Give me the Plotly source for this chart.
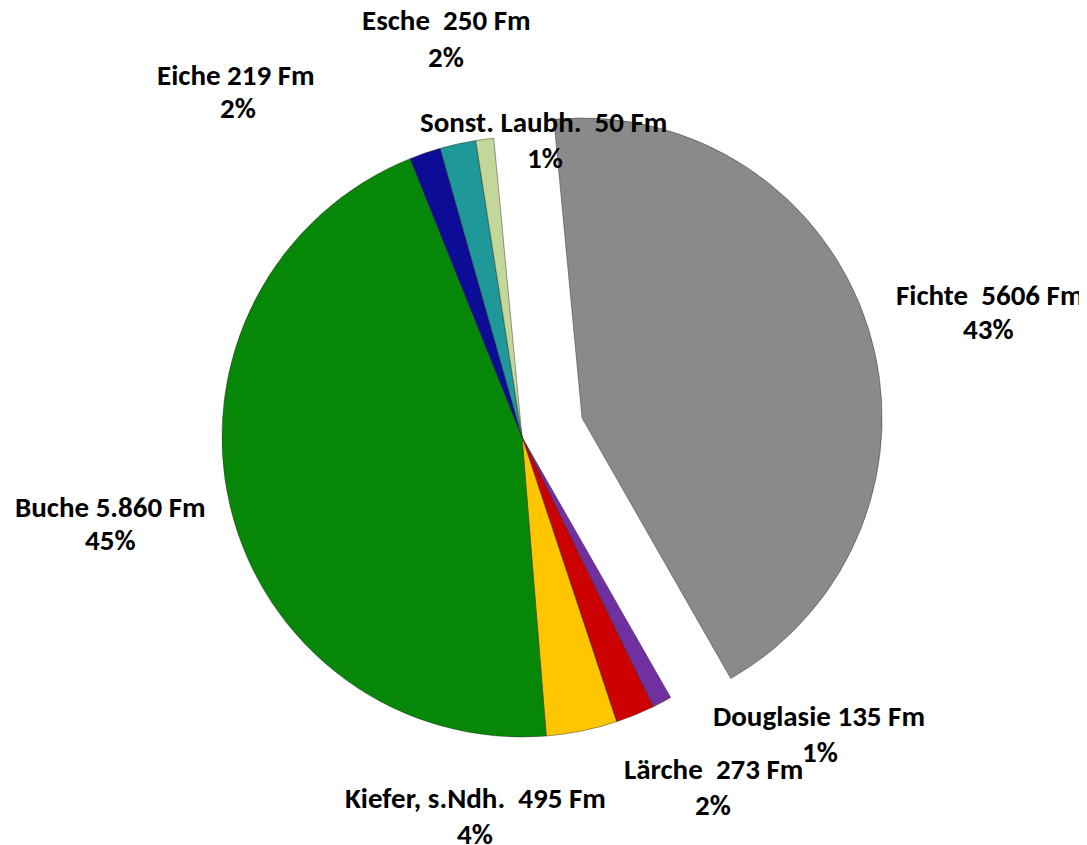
import plotly.graph_objects as go

# Data
species = ["Fichte", "Douglasie", "Lärche", "Kiefer, s.Ndh.", "Buche", "Eiche", "Esche", "Sonst. Laubh."]
volumes = [5606, 135, 273, 495, 5860, 219, 250, 125]
label_texts = ["Fichte  5606 Fm", "Douglasie 135 Fm", "Lärche  273 Fm", "Kiefer, s.Ndh.  495 Fm",
               "Buche 5.860 Fm", "Eiche 219 Fm", "Esche  250 Fm", "Sonst. Laubh.  50 Fm"]
percent_texts = ["43%", "1%", "2%", "4%", "45%", "2%", "2%", "1%"]
pulls = [0.21, 0, 0, 0, 0, 0, 0, 0]
colors = ["#8a8a8a", "#7030a0", "#cc0000", "#ffc600", "#078707", "#0c0c96", "#1e9898", "#c4d79b"]

W, H = 1087, 845
OFF = 8  # page body margin
# (x, y line1, x, y line2) label positions in pixels (layout only)
label_pos = [(990, 295, 988, 329), (819, 716, 820, 752), (713, 769, 713, 805),
             (475, 798, 475, 834), (110, 507, 110, 540), (236, 75, 238, 108),
             (446, 20, 446, 57), (543, 122, 545, 158)]

fig = go.Figure(go.Pie(
    labels=species,
    values=volumes,
    sort=False,
    direction="clockwise",
    rotation=-5.4,
    pull=pulls,
    textinfo="none",
    marker=dict(colors=colors, line=dict(color="rgba(40,40,40,0.45)", width=1)),
    domain=dict(x=[(159 - OFF) / W, (885 - OFF) / W], y=[1 - (800 - OFF) / H, 1 - (74 - OFF) / H]),
    showlegend=False,
    hoverinfo="label+value+percent",
))

annotations = []
font = dict(family="Carlito, Lato, Liberation Sans", size=29, color="#000000")
for (x1, y1, x2, y2), t, p in zip(label_pos, label_texts, percent_texts):
    for (px, py, txt) in ((x1, y1, t), (x2, y2, p)):
        annotations.append(dict(
            x=(px - OFF) / W, y=1 - (py - OFF) / H, xref="paper", yref="paper",
            text=f"<b>{txt}</b>", showarrow=False,
            xanchor="center", yanchor="middle", align="center", font=font,
        ))

fig.update_layout(
    width=W, height=H,
    margin=dict(l=0, r=0, t=0, b=0),
    paper_bgcolor="white", plot_bgcolor="white",
    annotations=annotations,
)

fig.write_html("out.html")
